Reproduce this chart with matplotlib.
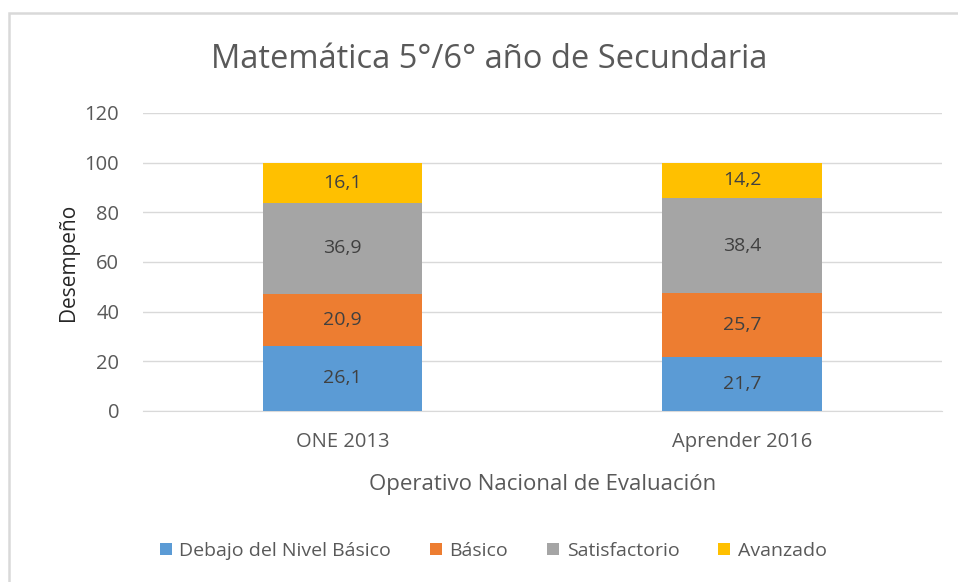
import matplotlib.pyplot as plt
from matplotlib.patches import Rectangle
import numpy as np

plt.rcParams['font.family'] = ['Open Sans', 'DejaVu Sans']

categorias = ['ONE 2013', 'Aprender 2016']
niveles = ['Debajo del Nivel Básico', 'Básico', 'Satisfactorio', 'Avanzado']
debajo = [26.1, 21.7]
basico = [20.9, 25.7]
satisf = [36.9, 38.4]
avanzado = [16.1, 14.2]
colores = ['#5B9BD5', '#ED7D31', '#A5A5A5', '#FFC000']
gris = '#595959'

fig = plt.figure(figsize=(9.58, 5.82), dpi=100)
ax = fig.add_axes([0.149, 0.294, 0.834, 0.512])

# marco del grafico
fig.patches.append(Rectangle((9 / 958, -0.1), 1.2, 1 - 13 / 582 + 0.1,
                             transform=fig.transFigure, fill=False,
                             edgecolor='#D9D9D9', linewidth=1.8))

x = np.arange(len(categorias))
base = np.zeros(len(categorias))
for serie, nombre, color in zip([debajo, basico, satisf, avanzado], niveles, colores):
    barras = ax.bar(x, serie, 0.4, bottom=base, color=color, label=nombre, zorder=3)
    etiquetas = [f'{v:.1f}'.replace('.', ',') for v in serie]
    ax.bar_label(barras, labels=etiquetas, label_type='center', color='#404040', fontsize=14)
    base += np.array(serie)

ax.set_xlim(-0.5, 1.5)
ax.set_ylim(0, 120)
ax.set_yticks(range(0, 121, 20))
ax.set_xticks(x)
ax.set_xticklabels(categorias)
ax.grid(axis='y', color='#D9D9D9', linewidth=1, zorder=0)
for lado in ['top', 'right', 'left']:
    ax.spines[lado].set_visible(False)
ax.spines['bottom'].set_color('#D9D9D9')
ax.tick_params(axis='both', length=0, colors=gris, labelsize=14.5)
ax.tick_params(axis='x', pad=15)
ax.tick_params(axis='y', pad=17)

ax.set_ylabel('Desempeño', fontsize=15, color='#262626', labelpad=4)
ax.set_xlabel('Operativo Nacional de Evaluación', fontsize=16, color=gris, labelpad=16)
fig.text(0.511, 0.897, 'Matemática 5°/6° año de Secundaria', ha='center', va='center',
         fontsize=23.5, color=gris)

fig.legend(loc='center', bbox_to_anchor=(0.515, 0.053), ncol=4, frameon=False,
           fontsize=14, labelcolor=gris, handlelength=0.6, handleheight=0.6,
           handletextpad=0.4, columnspacing=2.0)

fig.savefig('out.png', dpi=100)
